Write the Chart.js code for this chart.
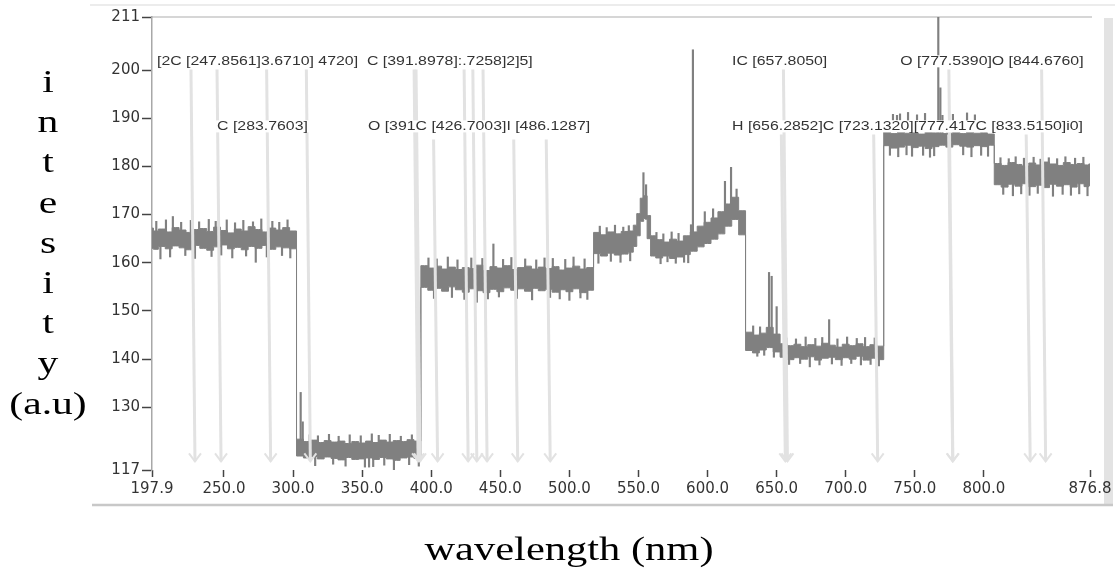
<!DOCTYPE html>
<html>
<head>
<meta charset="utf-8">
<script src="https://cdn.jsdelivr.net/npm/chart.js@4.4.1/dist/chart.umd.min.js"></script>
<style>
  html, body { margin: 0; padding: 0; background: #fff; }
  #wrap { width: 1115px; height: 569px; }
</style>
</head>
<body>
<div id="wrap"><canvas id="spectrum" width="1115" height="569"></canvas></div>
<script>
// spectrum: the noisy trace as a band (top / bottom edge) per wavelength step
const wavelength = [
  197.9, 200, 205, 210, 215, 220, 225, 230, 235, 240, 245, 250, 255, 260, 265, 270, 275, 280, 285, 290, 295, 300,
  305, 310, 315, 320, 325, 330, 335, 340, 345, 350, 355, 360, 365, 370, 375, 380, 385, 390,
  395, 400, 405, 410, 415, 420, 425, 430, 435, 440, 445, 450, 455, 460, 465, 470, 475, 480, 485, 490, 495, 500, 505, 510, 515,
  520, 525, 530, 535, 540, 545, 547.5, 550, 552.5, 555, 557.5, 560,
  565, 570, 575, 580, 585, 590, 595, 600, 605, 610, 615, 620, 625,
  630, 635, 640, 645, 650,
  655, 660, 665, 670, 675, 680, 685, 690, 695, 700, 705, 710, 715, 720, 725,
  730, 735, 740, 745, 750, 755, 760, 765, 770, 775, 780, 785, 790, 795, 800, 805,
  810, 815, 820, 825, 830, 835, 840, 845, 850, 855, 860, 865, 870, 875, 876.8
];
const bandTop = [
  167.2, 166.6, 167.0, 166.4, 167.3, 166.8, 166.3, 166.9, 167.1, 166.5, 167.4, 166.7, 166.2, 167.0, 166.6, 167.5, 166.9, 166.4, 167.2, 166.8, 167.3, 166.6,
  123.4, 122.9, 123.2, 122.7, 123.1, 122.8, 123.0, 122.5, 122.9, 122.6, 123.0, 122.7, 123.2, 122.8, 123.1, 122.9, 123.3, 123.0,
  159.4, 158.9, 159.3, 158.7, 159.1, 158.6, 159.0, 158.8, 159.5, 158.4, 159.2, 158.9, 159.4, 158.6, 159.0, 159.3, 158.7, 159.1, 158.8, 159.2, 158.5, 158.9, 159.3, 158.7, 159.0,
  166.3, 165.8, 166.4, 166.0, 166.5, 166.6, 167.8, 170.2, 173.4, 173.9, 169.8, 165.6,
  164.8, 164.3, 164.9, 164.5, 165.6, 166.4, 167.6, 168.4, 169.3, 170.6, 172.2, 173.6, 170.8,
  145.6, 145.0, 145.4, 146.6, 145.2,
  143.2, 142.8, 143.1, 142.6, 143.0, 142.7, 143.3, 142.9, 142.5, 143.1, 142.8, 143.2, 142.6, 143.0, 142.7,
  187.1, 186.8, 187.2, 186.9, 187.0, 186.7, 187.3, 187.0, 186.8, 186.9, 187.1, 186.8, 187.2, 186.9, 187.0, 186.7,
  180.6, 180.2, 180.8, 180.4, 180.1, 180.7, 180.3, 180.9, 180.5, 180.2, 180.8, 180.4, 180.6, 180.3, 180.5
];
const bandBottom = [
  163.0, 162.8, 163.4, 162.9, 163.5, 163.1, 162.7, 163.6, 163.0, 162.6, 163.3, 163.7, 162.9, 163.2, 162.7, 163.4, 163.0, 163.6, 162.8, 163.3, 163.1, 162.9,
  119.9, 119.5, 119.8, 119.3, 119.7, 119.4, 119.1, 119.6, 119.2, 119.3, 119.5, 119.2, 119.6, 119.3, 119.0, 119.5, 119.7, 119.4,
  154.9, 154.3, 154.7, 154.1, 155.0, 154.4, 153.9, 154.6, 154.2, 153.8, 154.5, 154.0, 154.8, 154.3, 154.6, 154.1, 154.7, 154.2, 154.5, 153.9, 154.4, 154.0, 154.6, 153.8, 154.3,
  161.9, 161.4, 162.0, 161.6, 161.8, 162.2, 163.4, 165.6, 168.6, 169.2, 165.0, 161.4,
  161.0, 161.4, 160.9, 161.2, 161.7, 162.4, 163.3, 164.0, 164.9, 166.0, 167.6, 169.0, 165.8,
  141.8, 141.3, 141.9, 142.4, 141.5,
  140.4, 139.9, 140.3, 140.0, 140.5, 139.8, 140.2, 140.4, 139.9, 140.3, 140.0, 140.6, 139.8, 140.2, 139.9,
  184.3, 183.8, 184.0, 184.4, 183.9, 184.2, 183.7, 184.1, 184.4, 184.0, 184.5, 184.2, 184.0, 184.3, 184.1, 184.4,
  176.2, 175.7, 176.3, 175.9, 176.4, 175.8, 176.1, 175.6, 176.3, 175.9, 176.2, 175.7, 176.4, 175.8, 176.0
];
// single spikes sticking out of the band: [wavelength, low, high]
const spikes = [
  [201,166,168.6],[208,166,168.9],[213,166,169.6],[219,166,168.4],[226,166,168.8],[232,166,168.5],[239,166,169.0],[244,166,168.6],
  [252,166,168.9],[258,166,168.3],[264,166,168.8],[271,166,168.5],[277,166,169.1],[285,166,168.6],[290,166,168.4],[296,166,168.9],
  [204,160.8,164],[211,161.2,164],[222,161.5,164],[229,160.9,164],[241,161.3,164],[248,161.6,164],[256,161.0,164],[266,161.4,164],
  [273,160.1,164],[281,161.2,164],[292,161.5,164],[298,161.0,164],
  [305.5,120,133.1],[307,120,127],[312,122,124.3],[318,122,124.1],[326,122,124.4],[333,122,124.0],[341,122,124.3],[349,122,124.1],
  [357,122,124.5],[362,122,124.2],[370,122,124.4],[378,122,124.0],[386,122,124.3],
  [316,117.9,120],[329,118.2,120],[338,117.8,120],[352,117.6,120],[355,117.6,120],[358,117.7,120],[366,118.0,120],[373,116.9,120],
  [384,118.1,120],[391,117.8,120],
  [398,157,161.0],[404,157,160.8],[412,157,161.2],[419,157,160.6],[429,157,161.0],[437,157,160.9],[445,157,163.9],[452,157,160.7],
  [458,157,161.1],[468,157,160.8],[476,157,160.6],[482,157,161.0],[488,157,160.9],[497,157,160.7],[503,157,161.2],[511,157,160.8],
  [402,152.6,156],[415,152.8,156],[424,152.4,156],[433,151.8,156],[441,152.5,156],[449,152.9,156],[462,152.6,156],[473,152.3,156],
  [486,152.8,156],[493,152.5,156],[500,152.2,156],[508,152.7,156],[513,152.4,156],
  [522,164,167.6],[527,164,167.3],[533,164,167.8],[539,164,167.4],[543,164,167.7],
  [521,159.9,163],[530,160.3,163],[537,160.1,163],[544,160.4,163],
  [553.6,170,178.7],[555.5,169,176.2],
  [563,163,166.3],[568,163,166.0],[574,163,166.4],[579,163,166.1],[588,163,167.9],
  [566,159.8,162],[571,160.2,162],[577,159.9,162],[583,160.1,162],[586,160.0,162],
  [589.4,163,204.2],
  [598,167,170.6],[604,168,171.2],[612.6,170,176.9],[617,171,179.8],[621,171,175.3],
  [633,144,146.9],[638,144,146.7],[644.5,143,158.0],[646.4,143,157.2],[650,142,150.9],
  [636,140.6,143],[641,140.8,143],[648,140.4,143],
  [657,142,144.4],[664,142,144.2],[671,142,144.6],[678,142,144.3],[683,142,144.5],[688,142,148.2],[694,142,144.2],[701,142,144.6],
  [708,142,144.3],[714,142,144.5],[721,142,144.4],
  [659,138.9,141],[667,139.1,141],[674,138.4,141],[681,138.8,141],[690,139.0,141],[697,138.7,141],[704,139.1,141],[711,138.8,141],
  [718,138.9,141],[724,138.6,141],
  [734.2,189.6,190.8],[737.1,189.6,190.6],[739.3,189.6,190.9],[745.1,189.4,191.2],[751.6,189.6,190.7],[757.4,189.5,191.0],
  [777.6,189.6,190.8],[787.8,189.4,191.1],[793.5,189.6,190.7],
  [767,186,211],[768.5,186,196.3],[770,186,190.6],
  [732,182.3,185],[738,182.0,185],[744,182.4,185],[748,182.1,185],[756,182.3,185],[761,181.9,185],[764,182.2,185],[785,182.4,185],
  [791,182.0,185],[798,182.3,185],[803,182.1,185],
  [812,179,181.8],[818,179,181.6],[823,179,182.0],[829,179,181.7],[836,179,181.9],[841,179,181.5],[847,179,181.8],[853,179,181.6],
  [859,179,182.0],[866,179,181.7],[872,179,181.9],
  [814,174.2,177],[821,173.9,177],[827,174.3,177],[833,174.0,177],[839,174.4,177],[850,173.8,177],[857,174.2,177],[863,174.0,177],
  [869,174.3,177],[875,173.9,177]
];

const xTicks = [197.9, 250, 300, 350, 400, 450, 500, 550, 600, 650, 700, 750, 800, 876.8];
const yTicks = [117, 130, 140, 150, 160, 170, 180, 190, 200, 211];

// marked emission lines (arrows) and where each arrow starts
const lineMarks   = [229.0, 247.86, 283.76, 312.5, 390.5, 391.9, 404.6, 426.7, 433.0, 440.4, 462.6, 486.13, 656.29, 657.81, 723.13, 777.42, 777.54, 833.52, 844.68];
const lineMarkTop = [200.1, 200.1, 200.1, 200.1, 200.1, 200.1, 185.6, 200.1, 200.1, 200.1, 185.6, 185.6, 186.6, 200.1, 186.6, 186.6, 200.1, 186.6, 200.1];
const arrowEnd = 118.8;

// line labels as they appear (overlapping) on the plot
const labelText = [
  '[2C [247.8561]3.6710] 4720]',
  'C [391.8978]:.7258]2]5]',
  'IC [657.8050]',
  'O [777.5390]O [844.6760]',
  'C [283.7603]',
  'O [391C [426.7003]I [486.1287]',
  'H [656.2852]C [723.1320][777.417C [833.5150]i0]'
];
const labelAt  = [201.5, 353.5, 617.7, 739.4, 245.0, 354.2, 617.7];
const labelRow = [201.8, 201.8, 201.8, 201.8, 188.3, 188.3, 188.3];

const yTitle = ['i', 'n', 't', 'e', 's', 'i', 't', 'y', '(a.u)'];
const xTitle = 'wavelength (nm)';

const trace = '#808080';

const frame = {
  id: 'frame',
  beforeDraw(chart) {
    const ctx = chart.ctx;
    ctx.save();
    ctx.fillStyle = '#fff';
    ctx.fillRect(0, 0, chart.width, chart.height);
    ctx.strokeStyle = '#ececec';
    ctx.lineWidth = 2;
    ctx.beginPath(); ctx.moveTo(90, 5); ctx.lineTo(1115, 5); ctx.stroke();
    ctx.fillStyle = '#e3e3e3';
    ctx.fillRect(1104, 18, 9, 487);
    ctx.strokeStyle = '#c8c8c8';
    ctx.lineWidth = 2.5;
    ctx.beginPath(); ctx.moveTo(92, 505); ctx.lineTo(1113, 505); ctx.stroke();
    const { left, right, top } = chart.chartArea;
    ctx.lineWidth = 1.5;
    ctx.beginPath(); ctx.moveTo(left, top); ctx.lineTo(right + 2, top); ctx.stroke();
    ctx.restore();
  }
};

const marks = {
  id: 'marks',
  afterDatasetsDraw(chart) {
    const { ctx, scales: { x, y } } = chart;
    ctx.save();
    ctx.strokeStyle = '#e2e2e2';
    ctx.lineWidth = 3;
    lineMarks.forEach((w, i) => {
      const xb = x.getPixelForValue(w);
      const yb = y.getPixelForValue(arrowEnd);
      const yt = y.getPixelForValue(lineMarkTop[i]);
      ctx.beginPath(); ctx.moveTo(xb - 4, yt); ctx.lineTo(xb, yb); ctx.stroke();
      ctx.lineWidth = 2;
      ctx.beginPath(); ctx.moveTo(xb - 6, yb - 8); ctx.lineTo(xb, yb); ctx.lineTo(xb + 6, yb - 8); ctx.stroke();
      ctx.lineWidth = 3;
    });
    ctx.font = '13px "Liberation Sans"';
    ctx.textBaseline = 'middle';
    labelText.forEach((t, i) => {
      const lx = x.getPixelForValue(labelAt[i]);
      const ly = y.getPixelForValue(labelRow[i]);
      const w = ctx.measureText(t).width * 1.22;
      ctx.fillStyle = '#fff';
      ctx.fillRect(lx - 1, ly - 6, w + 2, 12);
      ctx.save();
      ctx.translate(lx, ly);
      ctx.scale(1.22, 1);
      ctx.fillStyle = '#333';
      ctx.fillText(t, 0, 0);
      ctx.restore();
    });
    ctx.restore();
  }
};

const titles = {
  id: 'titles',
  afterDraw(chart) {
    const ctx = chart.ctx;
    ctx.save();
    ctx.fillStyle = '#000';
    ctx.textAlign = 'center';
    ctx.textBaseline = 'alphabetic';
    ctx.font = '32px "Liberation Serif"';
    yTitle.forEach((s, i) => {
      ctx.save();
      ctx.translate(48, 92 + i * 40.2);
      ctx.scale(1.3, 1);
      ctx.fillText(s, 0, 0);
      ctx.restore();
    });
    ctx.font = '34px "Liberation Serif"';
    ctx.translate(569, 560);
    ctx.scale(1.25, 1);
    ctx.fillText(xTitle, 0, 0);
    ctx.restore();
  }
};

new Chart(document.getElementById('spectrum'), {
  type: 'line',
  data: {
    datasets: [
      {
        data: wavelength.map((w, i) => ({ x: w, y: bandTop[i] })),
        borderColor: trace, borderWidth: 1, pointRadius: 0, stepped: 'middle', fill: false
      },
      {
        data: wavelength.map((w, i) => ({ x: w, y: bandBottom[i] })),
        borderColor: trace, borderWidth: 1, pointRadius: 0, stepped: 'middle',
        fill: '-1', backgroundColor: trace
      },
      {
        type: 'bar',
        data: spikes.map(s => ({ x: s[0], y: [s[1], s[2]] })),
        backgroundColor: trace, barThickness: 1.5, grouped: false
      }
    ]
  },
  options: {
    responsive: false,
    devicePixelRatio: 1,
    animation: false,
    layout: { padding: { top: 17, right: 25, bottom: 0, left: 0 } },
    plugins: { legend: { display: false }, tooltip: { enabled: false } },
    scales: {
      x: {
        type: 'linear', min: 197.9, max: 876.8, offset: false,
        afterBuildTicks: s => { s.ticks = xTicks.map(v => ({ value: v })); },
        afterFit: s => { s.height = 99; },
        border: { display: false },
        grid: { offset: false, drawOnChartArea: false, drawTicks: true, tickLength: 7, tickColor: '#444', tickWidth: 1.5 },
        ticks: {
          autoSkip: false, maxRotation: 0, padding: 3, color: '#333',
          font: { family: 'DejaVu Sans', size: 15 },
          callback: v => Number(v).toFixed(1)
        }
      },
      y: {
        min: 117, max: 211,
        afterBuildTicks: s => { s.ticks = yTicks.map(v => ({ value: v })); },
        afterFit: s => { s.width = 152; },
        border: { display: true, color: '#a8a8a8', width: 1.5 },
        grid: { drawOnChartArea: false, drawTicks: true, tickLength: 10, tickColor: '#444', tickWidth: 1.5 },
        ticks: {
          autoSkip: false, padding: 2, color: '#333',
          font: { family: 'DejaVu Sans', size: 15 }
        }
      }
    }
  },
  plugins: [frame, marks, titles]
});
</script>
</body>
</html>
